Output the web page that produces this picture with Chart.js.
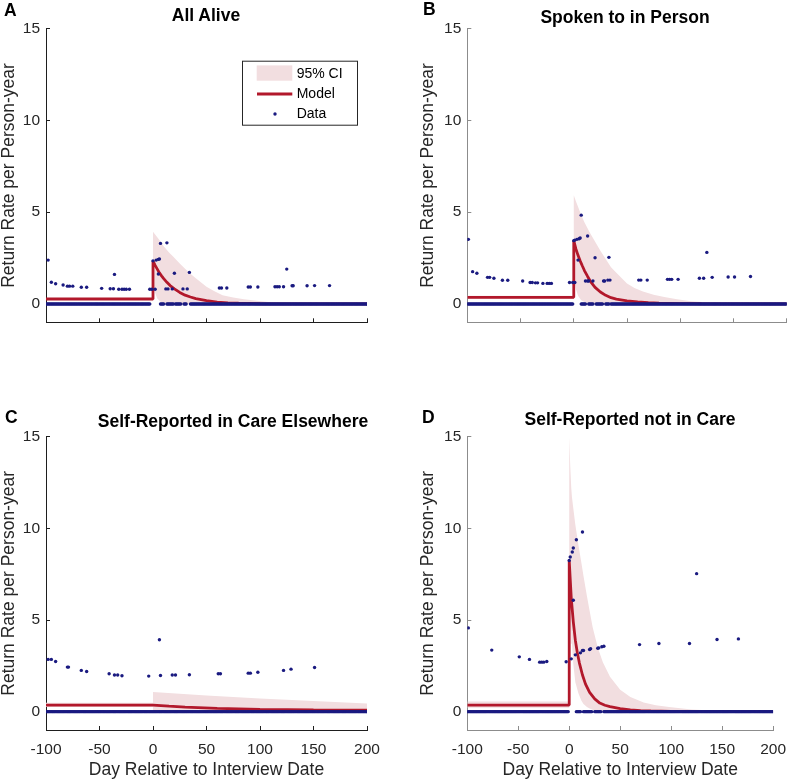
<!DOCTYPE html>
<html>
<head>
<meta charset="utf-8">
<title>Return rate around interview date</title>
<script src="https://cdn.jsdelivr.net/npm/chart.js@4.4.1/dist/chart.umd.min.js"></script>
<style>
    body { margin: 0; background: #fff; width: 800px; height: 781px; position: relative; overflow: hidden;
           font-family: Arial, "Liberation Sans", Helvetica, sans-serif; }
    canvas { position: absolute; }
    .title { position: absolute; font-weight: bold; font-size: 17.5px; line-height: 1; color: #000;
             white-space: nowrap; transform: translateX(-50%); }
    .letter { position: absolute; font-weight: bold; font-size: 17.5px; line-height: 1; color: #000; }
</style>
</head>
<body>
<canvas id="chartA" width="400" height="390" style="left:0;top:0"></canvas>
<canvas id="chartB" width="400" height="390" style="left:400px;top:0"></canvas>
<canvas id="chartC" width="400" height="391" style="left:0;top:390px"></canvas>
<canvas id="chartD" width="400" height="391" style="left:400px;top:390px"></canvas>

<div class="letter" style="left:4px;top:2px">A</div>
<div class="letter" style="left:423px;top:1px">B</div>
<div class="letter" style="left:5px;top:409px">C</div>
<div class="letter" style="left:422px;top:409px">D</div>
<div class="title" style="left:206px;top:7px">All Alive</div>
<div class="title" style="left:625px;top:9px">Spoken to in Person</div>
<div class="title" style="left:233px;top:413px">Self-Reported in Care Elsewhere</div>
<div class="title" style="left:630px;top:411px">Self-Reported not in Care</div>

<script>
// Axes
const xTicks = [-100, -50, 0, 50, 100, 150, 200];
const yTicks = [0, 5, 10, 15];

// A - All Alive
const aliveDays = [-98, -95, -91, -84, -80, -78, -75, -67, -62, -48, -40, -37, -36, -32, -29, -27, -25, -22, -3, -1,
    2, 0, 3, 5, 6, 5, 7, 13, 12, 14, 18, 20, 28, 32, 34, 62, 64, 69, 89, 91,
    98, 114, 116, 118, 122, 125, 130, 131, 144, 151, 165];
const aliveRates = [2.39, 1.18, 1.10, 1.03, 0.97, 0.97, 0.97, 0.91, 0.91, 0.85, 0.83, 0.83, 1.61, 0.80, 0.80, 0.80, 0.80, 0.80, 0.80, 0.80,
    0.80, 2.35, 2.39, 2.43, 2.45, 1.63, 3.30, 3.33, 0.82, 0.82, 0.82, 1.67, 0.82, 0.82, 1.72, 0.87, 0.87, 0.87, 0.92, 0.92,
    0.92, 0.94, 0.94, 0.94, 0.94, 1.90, 0.99, 0.99, 0.99, 1.00, 1.00];
const aliveZeroRanges = [[-100, -3], [7, 10], [13, 19], [21, 26], [29, 31], [35, 200]];
const aliveModelDays = [-100, 0, 0, 2, 4, 6, 8, 10, 13, 16, 20, 25, 30, 35, 40, 50, 60, 70, 80, 100, 120, 200];
const aliveModelRates = [0.27, 0.27, 2.34, 2.1, 1.9, 1.69, 1.53, 1.38, 1.18, 1.0, 0.82, 0.63, 0.48, 0.38, 0.29, 0.18, 0.1, 0.06, 0.04, 0.01, 0, 0];
const aliveCiDays = [-100, 0, 0, 2, 4, 7, 10, 15, 19, 25, 30, 35, 40, 50, 57, 65, 75, 85, 97, 110, 130, 160, 200];
const aliveCiUpper = [0.33, 0.33, 3.93, 3.78, 3.64, 3.4, 3.15, 2.8, 2.57, 2.2, 1.92, 1.65, 1.4, 0.94, 0.7, 0.48, 0.35, 0.26, 0.17, 0.09, 0.03, 0.01, 0];
const aliveCiLower = [0.22, 0.22, 1.2, 0.6, 0.3, 0.12, 0.05, 0.01, 0, 0, 0, 0, 0, 0, 0, 0, 0, 0, 0, 0, 0, 0, 0];

// B - Spoken to in Person
const spokenDays = [-99, -95, -91, -81, -79, -75, -67, -62, -48, -41, -39, -36, -34, -29, -25, -23, -21, -4, -1, 1,
    0, 1, 3, 5, 6, 7, 4, 13, 11, 13, 14, 18, 20, 28, 29, 32, 34, 33, 61, 63,
    69, 88, 90, 92, 98, 118, 122, 125, 130, 145, 151, 166];
const spokenRates = [3.52, 1.76, 1.67, 1.45, 1.45, 1.40, 1.29, 1.29, 1.25, 1.17, 1.17, 1.15, 1.15, 1.12, 1.12, 1.12, 1.12, 1.17, 1.17, 1.17,
    3.45, 3.48, 3.52, 3.55, 3.59, 4.84, 2.39, 3.70, 1.25, 1.25, 1.25, 1.25, 2.52, 1.25, 1.25, 1.30, 1.30, 2.54, 1.30, 1.30,
    1.30, 1.34, 1.34, 1.34, 1.34, 1.40, 1.40, 2.81, 1.45, 1.47, 1.47, 1.50];
const spokenZeroRanges = [[-100, -1], [7, 11], [14, 18], [21, 27], [30, 33], [35, 200]];
const spokenModelDays = [-100, 0, 0, 2, 4, 6, 8, 10, 13, 16, 20, 25, 30, 35, 40, 50, 60, 70, 80, 100, 120, 200];
const spokenModelRates = [0.36, 0.36, 3.45, 3.0, 2.65, 2.35, 2.08, 1.82, 1.5, 1.2, 0.9, 0.65, 0.47, 0.34, 0.26, 0.17, 0.11, 0.07, 0.04, 0.02, 0.01, 0];
const spokenCiDays = [-100, 0, 0, 2, 4, 7, 10, 15, 19, 25, 30, 35, 40, 50, 57, 65, 75, 85, 97, 110, 130, 160, 200];
const spokenCiUpper = [0.45, 0.45, 5.92, 5.6, 5.3, 4.85, 4.45, 3.9, 3.5, 2.9, 2.45, 2.0, 1.7, 1.12, 0.87, 0.68, 0.5, 0.38, 0.26, 0.15, 0.06, 0.02, 0];
const spokenCiLower = [0.28, 0.28, 1.5, 0.8, 0.45, 0.2, 0.1, 0.03, 0.01, 0, 0, 0, 0, 0, 0, 0, 0, 0, 0, 0, 0, 0, 0];

// C - Self-Reported in Care Elsewhere
const elsewhereDays = [-98, -95, -91, -80, -79, -67, -62, -41, -36, -33, -29, -4, 6, 7, 18, 21, 34, 61, 63, 89, 91, 98, 122, 129, 151];
const elsewhereRates = [2.85, 2.85, 2.74, 2.43, 2.43, 2.25, 2.19, 2.07, 2.00, 2.00, 1.96, 1.94, 3.92, 1.97, 2.00, 2.00, 2.01, 2.07, 2.07, 2.10, 2.10, 2.15, 2.25, 2.32, 2.41];
const elsewhereZeroRanges = [[-100, 200]];
const elsewhereModelDays = [-100, 0, 15, 30, 60, 100, 150, 200];
const elsewhereModelRates = [0.36, 0.36, 0.3, 0.25, 0.18, 0.13, 0.1, 0.08];
const elsewhereCiDays = [-100, 0, 0, 50, 100, 150, 200];
const elsewhereCiUpper = [0.48, 0.48, 1.07, 0.88, 0.72, 0.58, 0.45];
const elsewhereCiLower = [0.25, 0.25, 0.05, 0, 0, 0, 0];

// D - Self-Reported not in Care
const notInCareDays = [-99, -76, -49, -39, -29, -27, -25, -22, -3, 2, 6, 11, 13, 14, 20, 21, 28, 29, 32, 34,
    69, 88, 118, 145, 166, 0, 1, 3, 4, 7, 13, 4, 125];
const notInCareRates = [4.57, 3.36, 2.99, 2.85, 2.70, 2.70, 2.70, 2.74, 2.72, 2.88, 3.10, 3.21, 3.34, 3.34, 3.39, 3.43, 3.46, 3.48, 3.54, 3.57,
    3.66, 3.72, 3.72, 3.94, 3.97, 8.25, 8.44, 8.71, 8.93, 9.38, 9.80, 6.08, 7.53];
const notInCareZeroRanges = [[-100, -1], [7, 11], [14, 22], [25, 31], [34, 200]];
const notInCareModelDays = [-100, 0, 0, 1, 2, 4, 6, 8, 10, 13, 16, 20, 25, 30, 35, 40, 50, 60, 70, 80, 100, 120, 200];
const notInCareModelRates = [0.36, 0.36, 8.24, 7.2, 6.2, 4.9, 3.9, 3.2, 2.65, 2.0, 1.5, 1.05, 0.7, 0.47, 0.35, 0.27, 0.16, 0.1, 0.06, 0.04, 0.01, 0, 0];
const notInCareCiDays = [-100, 0, 0, 1, 2, 2.7, 4, 6, 9, 12, 14, 17.4, 20, 23, 28, 33, 40, 50, 60, 73, 85, 98, 120, 150, 200];
const notInCareCiUpper = [0.55, 0.55, 15, 13.4, 12.2, 11.7, 11.1, 10.2, 9.1, 8.1, 7.4, 6.3, 5.5, 4.6, 3.5, 2.7, 1.9, 1.2, 0.8, 0.5, 0.35, 0.25, 0.12, 0.04, 0];
const notInCareCiLower = [0.22, 0.22, 8.2, 5.8, 4.3, 3.7, 2.6, 1.6, 1.0, 0.6, 0.42, 0.25, 0.17, 0.1, 0.05, 0.02, 0, 0, 0, 0, 0, 0, 0, 0, 0];

(function () {
    'use strict';

    const FONT = 'Arial, "Liberation Sans", Helvetica, sans-serif';
    const NAVY = '#1a1a80';
    const RED = '#b2182b';
    const PINK = '#f2dee0';
    const TEXT = '#262626';

    function toPoints(xs, ys) {
        return xs.map((x, i) => ({ x: x, y: ys[i] }));
    }

    // one point per day, rate 0
    function zeroPoints(ranges) {
        const pts = [];
        ranges.forEach(([a, b]) => {
            for (let d = a; d <= b; d++) pts.push({ x: d, y: 0 });
        });
        return pts;
    }

    // legend box drawn inside panel A
    const legendBox = {
        id: 'legendBox',
        afterDraw(chart) {
            const ctx = chart.ctx;
            const area = chart.chartArea;
            const x0 = area.right - 124.5;
            const y0 = area.top + 32.5;
            ctx.save();
            ctx.fillStyle = '#fff';
            ctx.fillRect(x0, y0, 115, 64);
            ctx.strokeStyle = '#262626';
            ctx.lineWidth = 1;
            ctx.strokeRect(x0, y0, 115, 64);

            ctx.fillStyle = PINK;
            ctx.fillRect(x0 + 14.2, y0 + 4.2, 35.6, 15.3);

            ctx.strokeStyle = RED;
            ctx.lineWidth = 3;
            ctx.beginPath();
            ctx.moveTo(x0 + 14.5, y0 + 32.8);
            ctx.lineTo(x0 + 49.8, y0 + 32.8);
            ctx.stroke();

            ctx.fillStyle = NAVY;
            ctx.beginPath();
            ctx.arc(x0 + 32.5, y0 + 52.8, 1.7, 0, Math.PI * 2);
            ctx.fill();

            ctx.fillStyle = '#000';
            ctx.font = '14px ' + FONT;
            ctx.textBaseline = 'middle';
            ctx.textAlign = 'left';
            ctx.fillText('95% CI', x0 + 54.2, y0 + 13.2);
            ctx.fillText('Model', x0 + 54.2, y0 + 32.7);
            ctx.fillText('Data', x0 + 54.2, y0 + 52.7);
            ctx.restore();
        }
    };

    function makePanel(id, p) {
        const canvas = document.getElementById(id);
        const axisColor = p.axisColor;
        return new Chart(canvas, {
            type: 'line',
            data: {
                datasets: [{
                    label: 'Data',
                    data: toPoints(p.days, p.rates).concat(zeroPoints(p.zeroRanges)),
                    showLine: false,
                    pointRadius: 1.7,
                    pointBackgroundColor: NAVY,
                    pointBorderColor: NAVY,
                    pointBorderWidth: 0,
                    order: 0
                }, {
                    label: 'Model',
                    data: toPoints(p.modelDays, p.modelRates),
                    borderColor: RED,
                    borderWidth: 2.8,
                    borderJoinStyle: 'bevel',
                    pointRadius: 0,
                    fill: false,
                    tension: 0,
                    order: 1
                }, {
                    label: '95% CI',
                    data: toPoints(p.ciDays, p.ciUpper),
                    borderColor: 'rgba(0,0,0,0)',
                    borderWidth: 0,
                    backgroundColor: PINK,
                    pointRadius: 0,
                    fill: '+1',
                    order: 2
                }, {
                    label: 'CI lower',
                    data: toPoints(p.ciDays, p.ciLower),
                    borderColor: 'rgba(0,0,0,0)',
                    borderWidth: 0,
                    pointRadius: 0,
                    fill: false,
                    order: 3
                }]
            },
            options: {
                responsive: false,
                animation: false,
                devicePixelRatio: 1,
                events: [],
                layout: { padding: p.padding },
                plugins: {
                    legend: { display: false },
                    tooltip: { enabled: false }
                },
                scales: {
                    x: {
                        type: 'linear',
                        min: -100,
                        max: 200,
                        afterBuildTicks: s => { s.ticks = xTicks.map(v => ({ value: v })); },
                        afterFit: s => { s.height = p.xHeight; },
                        grid: { drawOnChartArea: false, tickLength: -4, color: axisColor, lineWidth: 1 },
                        border: { color: axisColor, width: 1 },
                        ticks: {
                            display: p.showX,
                            padding: 14,
                            color: TEXT,
                            maxRotation: 0,
                            autoSkip: false,
                            font: { family: FONT, size: 15.5 }
                        },
                        title: {
                            display: p.showX,
                            text: 'Day Relative to Interview Date',
                            color: TEXT,
                            font: { family: FONT, size: 17.5, lineHeight: 1 },
                            padding: { top: 0, bottom: 2.25 }
                        }
                    },
                    y: {
                        type: 'linear',
                        min: -1,
                        max: 15,
                        afterBuildTicks: s => { s.ticks = yTicks.map(v => ({ value: v })); },
                        afterFit: s => { s.width = p.yWidth; },
                        grid: { drawOnChartArea: false, tickLength: -4, color: axisColor, lineWidth: 1 },
                        border: { color: axisColor, width: 1 },
                        ticks: {
                            padding: 10,
                            color: TEXT,
                            font: { family: FONT, size: 15.5 }
                        },
                        title: {
                            display: true,
                            text: 'Return Rate per Person-year',
                            color: TEXT,
                            font: { family: FONT, size: 17.5, lineHeight: 1 },
                            padding: { top: 0, bottom: 0 }
                        }
                    }
                }
            },
            plugins: p.legend ? [legendBox] : []
        });
    }

    makePanel('chartA', {
        days: aliveDays, rates: aliveRates, zeroRanges: aliveZeroRanges,
        modelDays: aliveModelDays, modelRates: aliveModelRates,
        ciDays: aliveCiDays, ciUpper: aliveCiUpper, ciLower: aliveCiLower,
        axisColor: '#1e1e1e', showX: false, xHeight: 10, yWidth: 46,
        padding: { left: 0, top: 28.7, right: 33, bottom: 57.7 }, legend: true
    });
    makePanel('chartB', {
        days: spokenDays, rates: spokenRates, zeroRanges: spokenZeroRanges,
        modelDays: spokenModelDays, modelRates: spokenModelRates,
        ciDays: spokenCiDays, ciUpper: spokenCiUpper, ciLower: spokenCiLower,
        axisColor: '#8c8c8c', showX: false, xHeight: 10, yWidth: 48,
        padding: { left: 19.3, top: 28.7, right: 13.3, bottom: 57.7 }
    });
    makePanel('chartC', {
        days: elsewhereDays, rates: elsewhereRates, zeroRanges: elsewhereZeroRanges,
        modelDays: elsewhereModelDays, modelRates: elsewhereModelRates,
        ciDays: elsewhereCiDays, ciUpper: elsewhereCiUpper, ciLower: elsewhereCiLower,
        axisColor: '#1e1e1e', showX: true, xHeight: 51, yWidth: 46,
        padding: { left: 0, top: 46.7, right: 33, bottom: 0 }
    });
    makePanel('chartD', {
        days: notInCareDays, rates: notInCareRates, zeroRanges: notInCareZeroRanges,
        modelDays: notInCareModelDays, modelRates: notInCareModelRates,
        ciDays: notInCareCiDays, ciUpper: notInCareCiUpper, ciLower: notInCareCiLower,
        axisColor: '#8c8c8c', showX: true, xHeight: 51, yWidth: 48,
        padding: { left: 19.3, top: 46.7, right: 13.3, bottom: 0 }
    });
})();
</script>
</body>
</html>
